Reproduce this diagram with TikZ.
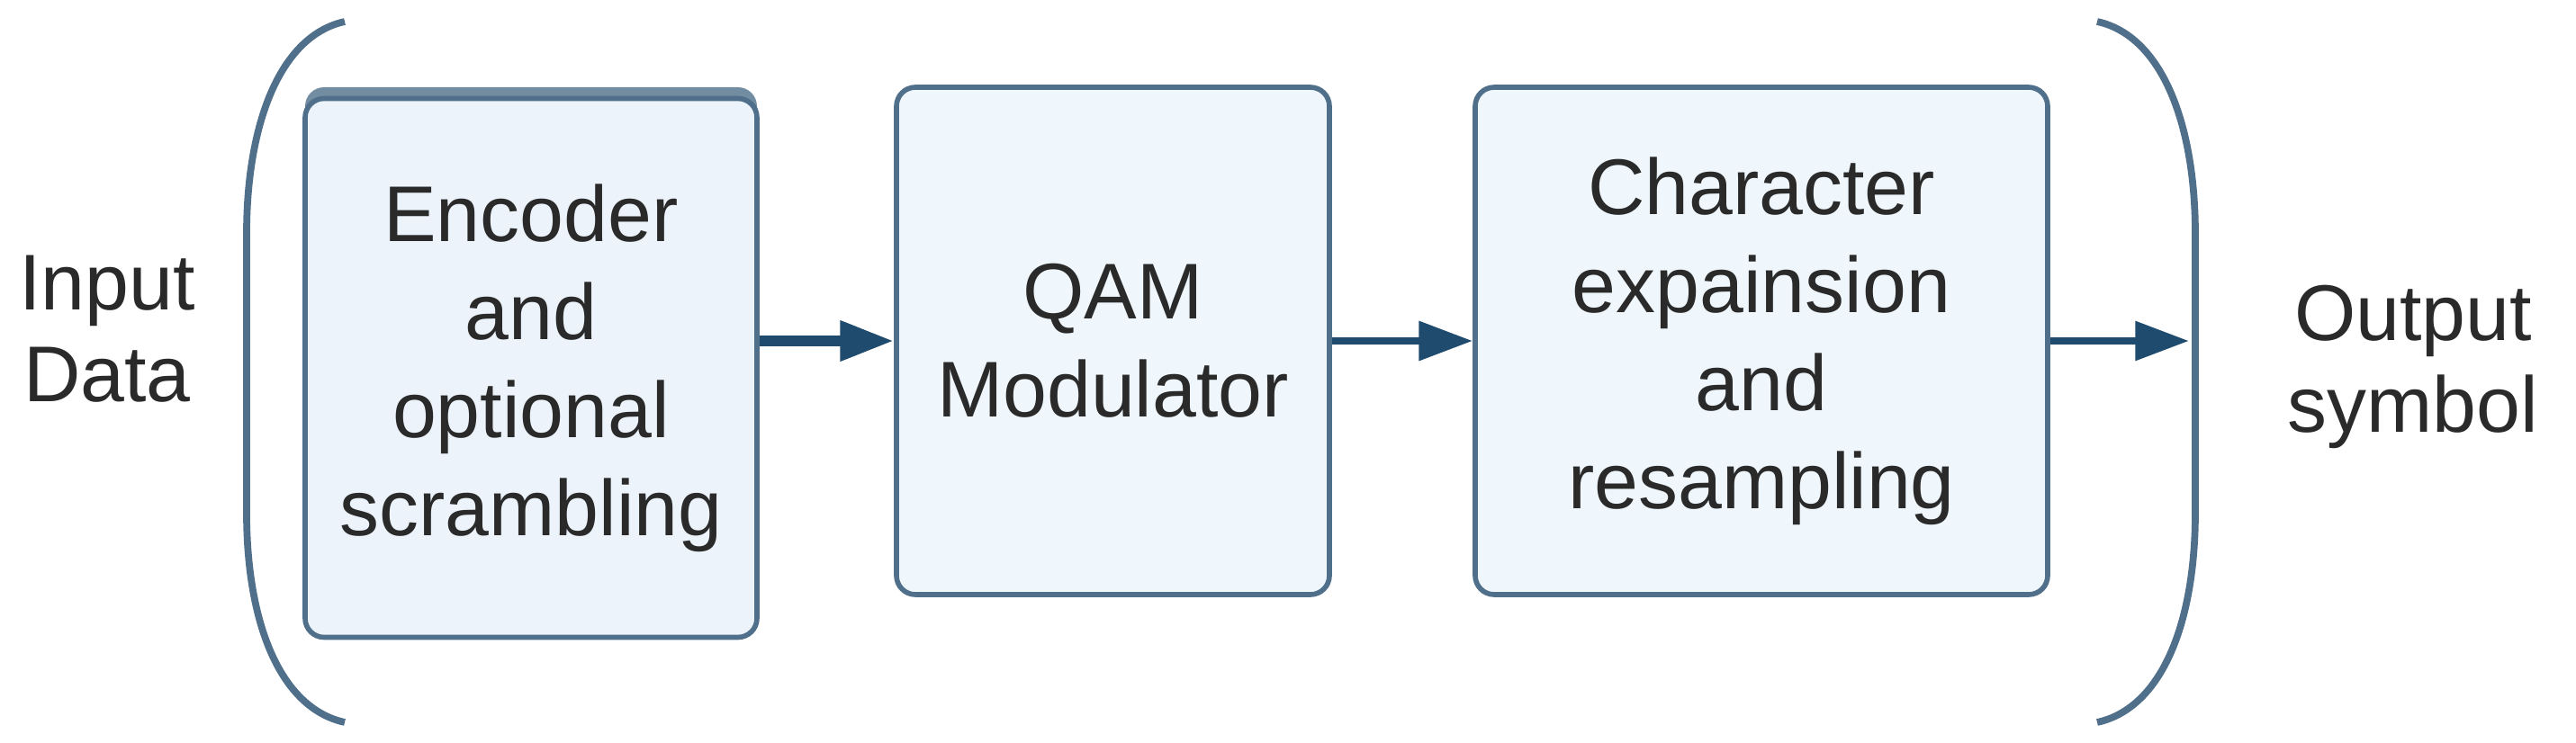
\documentclass[tikz,border=0pt]{standalone}
\usepackage{fontspec}
\setmainfont{Liberation Sans}
\usetikzlibrary{arrows.meta}
\definecolor{edgeblue}{HTML}{4F6F8A}
\definecolor{arrowblue}{HTML}{1F4B6E}
\definecolor{boxfill}{HTML}{EFF7FC}
\definecolor{encfill}{HTML}{ECF3FA}
\definecolor{textgray}{HTML}{2A2A2A}
\tikzset{
  block/.style={draw=edgeblue,line width=1.6pt,rounded corners=6pt,fill=boxfill,align=center,
    text=textgray,font=\fontsize{25}{31}\selectfont,inner sep=0pt},
  label/.style={align=center,text=textgray,font=\fontsize{25}{29}\selectfont},
  flow/.style={arrowblue,line width=2.5pt,-{Triangle[length=17pt,width=12pt]}},
  paren/.style={edgeblue,line width=2.2pt}
}
\begin{document}
\begin{tikzpicture}
  \useasboundingbox (0,0) rectangle (28.62,-8.26);
  % shadow of the first block
  \fill [edgeblue!80,rounded corners=6pt] (3.39,-0.97) rectangle (8.41,-7.09);
  \node [block,fill=encfill,minimum width=5.02cm,minimum height=5.99cm] (enc) at (5.90,-4.09)
    {Encoder\\and\\optional\\scrambling};
  \node [block,minimum width=4.81cm,minimum height=5.64cm] (qam) at (12.365,-3.79)
    {QAM\\Modulator};
  \node [block,minimum width=6.36cm,minimum height=5.64cm] (chr) at (19.57,-3.79)
    {Character\\expainsion\\and\\resampling};
  \node [label] (in) at (1.19,-3.66) {Input\\Data};
  \node [label] (out) at (26.81,-4.08) {Output\\symbol};
  \coordinate (end) at (24.32,-3.79);
  % brackets
  \draw [paren] (3.83,-0.24) .. controls (3.1,-0.4) and (2.74,-1.4) .. (2.74,-2.6)
    -- (2.74,-5.7) .. controls (2.74,-6.9) and (3.1,-7.87) .. (3.83,-8.03);
  \draw [paren] (23.30,-0.24) .. controls (24.03,-0.4) and (24.39,-1.4) .. (24.39,-2.6)
    -- (24.39,-5.7) .. controls (24.39,-6.9) and (24.03,-7.87) .. (23.30,-8.03);
  % connectors
  \draw [flow,line width=3.5pt] (enc.east |- qam.east) -- (qam.west);
  \draw [flow] (qam) -- (chr);
  \draw [flow] (chr) -- (end);
\end{tikzpicture}
\end{document}
